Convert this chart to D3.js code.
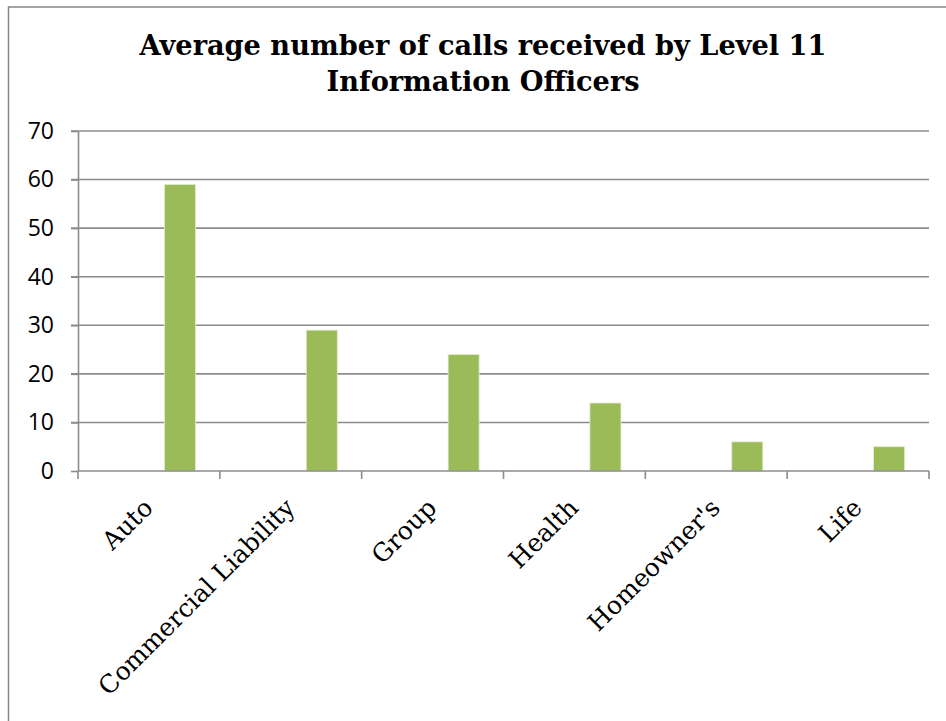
<!DOCTYPE html>
<html>
<head>
<meta charset="utf-8">
<script src="https://cdn.jsdelivr.net/npm/d3@7"></script>
<style>
  body { margin: 0; background: #fff; }
</style>
</head>
<body>
<div id="root"></div>
<script>
// Categories and values
const categories = ["Auto", "Commercial Liability", "Group", "Health", "Homeowner's", "Life"];
const calls = [59, 29, 24, 14, 6, 5];
const yTicks = [0, 10, 20, 30, 40, 50, 60, 70];
const titleLines = ["Average number of calls received by Level 11", "Information Officers"];

// the bar sits in the 3rd of 3 series slots (other two are empty)
const seriesSlots = [0, 1, 2];
const seriesUsed = 2;

const W = 946, H = 721;
const plot = { left: 78, right: 929, top: 131, bottom: 471 };

const svg = d3.select("#root").append("svg")
    .attr("width", W)
    .attr("height", H);

// chart frame (runs off the right and bottom of the picture)
svg.append("rect")
    .attr("x", 8.5).attr("y", 7)
    .attr("width", 960).attr("height", 740)
    .attr("fill", "#fff")
    .attr("stroke", "#868686")
    .attr("stroke-width", 1.5);

// title
svg.append("text")
    .attr("font-family", "'DejaVu Serif', serif")
    .attr("font-weight", "bold")
    .attr("font-size", 27.2)
    .attr("text-anchor", "middle")
    .selectAll("tspan")
    .data(titleLines)
    .join("tspan")
    .attr("x", 483)
    .attr("y", (d, i) => 55 + i * 36)
    .text(d => d);

// scales
const x = d3.scaleBand()
    .domain(categories)
    .range([plot.left, plot.right])
    .paddingInner(0)
    .paddingOuter(0);

// 157% gap width split across the category
const gap = 1.57;
const slotW = x.bandwidth() / (seriesSlots.length + gap);
const xs = d3.scaleBand()
    .domain(seriesSlots)
    .range([slotW * gap / 2, x.bandwidth() - slotW * gap / 2]);

const y = d3.scaleLinear()
    .domain([0, 70])
    .range([plot.bottom, plot.top]);

// gridlines
svg.append("g")
    .selectAll("line")
    .data(yTicks.filter(d => d > 0))
    .join("line")
    .attr("x1", plot.left - 7)
    .attr("x2", plot.right)
    .attr("y1", d => y(d))
    .attr("y2", d => y(d))
    .attr("stroke", "#8c8c8c")
    .attr("stroke-width", 1.6);

// bars
svg.append("g")
    .selectAll("rect")
    .data(calls)
    .join("rect")
    .attr("x", (d, i) => x(categories[i]) + xs(seriesUsed))
    .attr("y", d => y(d))
    .attr("width", xs.bandwidth())
    .attr("height", d => y(0) - y(d))
    .attr("fill", "#9bbb59")
    .attr("stroke", "#e3ecd0")
    .attr("stroke-width", 0.8);

// y axis
const yAxis = svg.append("g")
    .attr("transform", `translate(${plot.left},0)`)
    .call(d3.axisLeft(y).tickValues(yTicks).tickSize(7).tickPadding(17).tickSizeOuter(0));
yAxis.select(".domain").attr("stroke", "#8c8c8c").attr("stroke-width", 1.6);
yAxis.selectAll(".tick line").attr("stroke", "#8c8c8c").attr("stroke-width", 1.6);
yAxis.selectAll(".tick text")
    .attr("font-family", "'Open Sans', sans-serif")
    .attr("font-size", 23)
    .attr("fill", "#000");

// x axis: ticks on category boundaries
const xAxisG = svg.append("g")
    .attr("transform", `translate(0,${plot.bottom})`);
xAxisG.append("line")
    .attr("x1", plot.left).attr("x2", plot.right)
    .attr("stroke", "#8c8c8c").attr("stroke-width", 1.6);
const edges = categories.map(c => x(c)).concat([plot.right]);
xAxisG.selectAll("line.tk")
    .data(edges)
    .join("line")
    .attr("class", "tk")
    .attr("x1", d => d).attr("x2", d => d)
    .attr("y1", 0).attr("y2", 8)
    .attr("stroke", "#8c8c8c").attr("stroke-width", 1.6);

// rotated category labels
xAxisG.selectAll("text")
    .data(categories)
    .join("text")
    .attr("transform", d => `translate(${x(d) + x.bandwidth() / 2 - 7},${26}) rotate(-45)`)
    .attr("text-anchor", "end")
    .attr("dy", "0.7em")
    .attr("font-family", "'DejaVu Serif', serif")
    .attr("font-size", 25)
    .attr("fill", "#000")
    .text(d => d);
</script>
</body>
</html>
